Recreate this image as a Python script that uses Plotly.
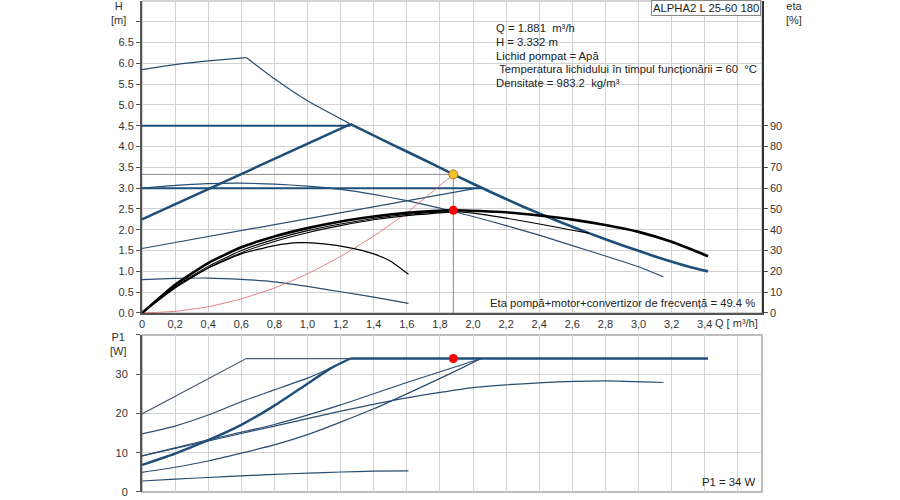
import plotly.graph_objects as go

# --- H(Q) curves, top panel ---
Q_MAX = [0, 0.2, 0.4, 0.63, 0.8, 1.0, 1.26, 1.5, 1.7, 1.881, 2.1, 2.3, 2.5, 2.7, 2.9, 3.1, 3.3, 3.42]
H_MAX = [5.85, 5.97, 6.06, 6.14, 5.63, 5.1, 4.54, 4.07, 3.69, 3.332, 2.92, 2.56, 2.23, 1.92, 1.63, 1.36, 1.12, 1.0]
MAX_KNEE = 3      # index of the knee at Q = 0.63
MAX_SEL = 6       # thick part starts at Q = 1.26

Q_SPD_HI = [0, 0.2, 0.4, 0.6, 0.8, 1.0, 1.2, 1.4, 1.6, 1.8, 2.0, 2.2, 2.4, 2.6, 2.8, 3.0, 3.15]
H_SPD_HI = [3.0, 3.07, 3.11, 3.12, 3.1, 3.05, 2.97, 2.85, 2.7, 2.52, 2.32, 2.1, 1.87, 1.62, 1.37, 1.11, 0.87]
Q_SPD_LO = [0, 0.2, 0.4, 0.6, 0.8, 1.0, 1.2, 1.4, 1.61]
H_SPD_LO = [0.8, 0.83, 0.84, 0.81, 0.75, 0.64, 0.51, 0.38, 0.23]

Q_PP3 = [0, 1.26]
H_PP3 = [2.25, 4.54]
Q_CP3 = [0, 1.26]
H_CP3 = [4.5, 4.5]
Q_PP2 = [0, 2.05]
H_PP2 = [1.55, 3.02]
Q_CP2 = [0, 2.05]
H_CP2 = [3.0, 3.0]

Q_SYS = [0, 0.2, 0.4, 0.6, 0.8, 1.0, 1.2, 1.4, 1.6, 1.881]
H_SYS = [0, 0.04, 0.15, 0.34, 0.6, 0.94, 1.36, 1.85, 2.41, 3.332]

# --- efficiency curves [%] ---
Q_ETA_SEL = [0, 0.2, 0.4, 0.6, 0.8, 1.0, 1.2, 1.4, 1.6, 1.881, 2.2, 2.4, 2.6, 2.8, 3.0, 3.2, 3.42]
ETA_SEL = [0, 13.6, 24, 31.6, 36.8, 40.8, 44, 46.4, 48.2, 49.4, 48.4, 46.9, 44.9, 42.3, 39.0, 34.2, 27.3]
Q_ETA_2 = [0, 0.2, 0.4, 0.6, 0.8, 1.0, 1.2, 1.4, 1.6, 1.88, 2.0, 2.2, 2.4, 2.6, 2.7]
ETA_2 = [0, 12.6, 22.4, 30, 35.4, 39.6, 42.8, 45.4, 47.4, 48.8, 48.0, 45.6, 42.8, 39.8, 38.4]
Q_ETA_3 = [0, 0.2, 0.4, 0.6, 0.8, 1.0, 1.2, 1.4, 1.6, 1.88]
ETA_3 = [0, 12, 21.6, 29, 34.4, 38.6, 42, 44.8, 46.8, 48.6]
Q_ETA_LO = [0, 0.2, 0.4, 0.6, 0.8, 0.95, 1.1, 1.25, 1.4, 1.5, 1.61]
ETA_LO = [0, 12.4, 21.6, 28.4, 32.4, 33.8, 33.2, 31.4, 28.4, 25, 18.6]

# --- P1(Q) curves, bottom panel ---
Q_P_A = [0, 0.63, 1.26]
P_A = [19.9, 34, 34]
Q_P_SEL = [0, 0.2, 0.4, 0.6, 0.8, 1.0, 1.14, 1.26]
P_SEL = [6.9, 9.8, 13.2, 17.1, 22.0, 27.6, 31.5, 34]
Q_P_MAX = [1.26, 3.42]
P_MAX = [34, 34]
Q_P_B = [0, 0.2, 0.4, 0.6, 0.8, 1.0, 1.14, 1.26]
P_B = [14.8, 16.8, 19.6, 23.0, 26.0, 29.0, 31.6, 34]
Q_P_D = [0, 0.4, 0.8, 1.2, 1.6, 2.05]
P_D = [9.2, 13.3, 17.2, 22.2, 27.9, 34]
Q_P_E = [0, 0.4, 0.8, 1.2, 1.6, 2.0, 2.4, 2.8, 3.15]
P_E = [9.2, 13.0, 16.8, 20.6, 24.0, 26.6, 27.8, 28.3, 27.9]
Q_P_F = [0, 0.2, 0.4, 0.6, 0.8, 1.0, 1.2, 1.4, 1.6, 1.84, 2.05]
P_F = [5.0, 6.3, 7.9, 9.9, 12.0, 14.6, 17.8, 21.2, 25.0, 29.7, 34]
Q_P_G = [0, 0.2, 0.4, 0.6, 0.8, 1.0, 1.2, 1.4, 1.61]
P_G = [2.8, 3.3, 3.7, 4.1, 4.5, 4.8, 5.1, 5.3, 5.4]

# duty point
Q_DUTY = 1.881
H_DUTY = 3.332
ETA_DUTY = 49.4
P1_DUTY = 34

X_TICKS = [0, 0.2, 0.4, 0.6, 0.8, 1.0, 1.2, 1.4, 1.6, 1.8, 2.0, 2.2, 2.4, 2.6, 2.8, 3.0, 3.2, 3.4, 3.6]
X_TEXT = ['0', '0,2', '0,4', '0,6', '0,8', '1,0', '1,2', '1,4', '1,6', '1,8',
          '2,0', '2,2', '2,4', '2,6', '2,8', '3,0', '3,2', '3,4', '']
H_TICKS = [0, 0.5, 1.0, 1.5, 2.0, 2.5, 3.0, 3.5, 4.0, 4.5, 5.0, 5.5, 6.0, 6.5, 7.0]
H_TEXT = ['0.0', '0.5', '1.0', '1.5', '2.0', '2.5', '3.0', '3.5', '4.0', '4.5',
          '5.0', '5.5', '6.0', '6.5', '']
ETA_TICKS = [0, 10, 20, 30, 40, 50, 60, 70, 80, 90]
P_TICKS = [0, 10, 20, 30, 40]
P_TEXT = ['0', '10', '20', '30', '']

INFO_LINES = [
    'Q = 1.881\u00a0 m³/h',
    'H = 3.332 m',
    'Lichid pompat = Apă',
    '\u00a0Temperatura lichidului în timpul funcționării = 60\u00a0 °C',
    'Densitate = 983.2\u00a0 kg/m³',
]

BLUE = '#1f4e79'
BLUE_T = '#2a4d72'
BLACK = '#000000'
GRID = '#d2d2d2'
FONT = 'Liberation Sans, Arial, sans-serif'
TXT = dict(family=FONT, size=11.3, color='#222222')

fig = go.Figure()


def line(x, y, color, width, xa='x', ya='y', smooth=True):
    shape = dict(shape='spline', smoothing=0.5) if smooth else dict(shape='linear')
    fig.add_trace(go.Scatter(x=x, y=y, mode='lines', xaxis=xa, yaxis=ya,
                             line=dict(color=color, width=width, **shape),
                             hoverinfo='skip', showlegend=False))


# top panel
line([0, Q_DUTY], [H_DUTY, H_DUTY], '#8c8c8c', 1, smooth=False)
line([Q_DUTY, Q_DUTY], [0, H_DUTY], '#8c8c8c', 1, smooth=False)
line(Q_SPD_LO, H_SPD_LO, BLUE_T, 1.2)
line(Q_SPD_HI, H_SPD_HI, BLUE_T, 1.2)
line(Q_PP2, H_PP2, BLUE_T, 1.2, smooth=False)
line(Q_CP2, H_CP2, BLUE, 2, smooth=False)
line(Q_CP3, H_CP3, BLUE, 2, smooth=False)
line(Q_PP3, H_PP3, BLUE, 2.5, smooth=False)
line(Q_MAX[:MAX_KNEE + 1], H_MAX[:MAX_KNEE + 1], BLUE_T, 1.2)
line(Q_MAX[MAX_KNEE:MAX_SEL + 1], H_MAX[MAX_KNEE:MAX_SEL + 1], BLUE_T, 1.2)
line(Q_MAX[MAX_SEL:], H_MAX[MAX_SEL:], BLUE, 2.6)
line(Q_SYS, H_SYS, '#e06060', 0.8)
line(Q_ETA_LO, ETA_LO, BLACK, 1.2, ya='y2')
line(Q_ETA_3, ETA_3, BLACK, 1.1, ya='y2')
line(Q_ETA_2, ETA_2, BLACK, 1.1, ya='y2')
line(Q_ETA_SEL, ETA_SEL, BLACK, 2.6, ya='y2')

fig.add_trace(go.Scatter(x=[Q_DUTY], y=[ETA_DUTY], yaxis='y2', mode='markers',
                         marker=dict(color='#ff0000', size=9), hoverinfo='skip', showlegend=False))
fig.add_trace(go.Scatter(x=[Q_DUTY], y=[H_DUTY], mode='markers',
                         marker=dict(color='#f2c32a', size=9, line=dict(color='#b07a10', width=1)),
                         hoverinfo='skip', showlegend=False))

# bottom panel
for qx, py, w, c, sm in [(Q_P_G, P_G, 1.2, BLUE_T, True), (Q_P_F, P_F, 1.2, BLUE_T, True),
                         (Q_P_E, P_E, 1.2, BLUE_T, True), (Q_P_D, P_D, 1.2, BLUE_T, True),
                         (Q_P_B, P_B, 1.2, BLUE_T, True), (Q_P_A, P_A, 1.2, '#4a5d73', False),
                         (Q_P_SEL, P_SEL, 2.4, BLUE, True), (Q_P_MAX, P_MAX, 2.4, BLUE, False)]:
    line(qx, py, c, w, xa='x2', ya='y3', smooth=sm)
fig.add_trace(go.Scatter(x=[Q_DUTY], y=[P1_DUTY], xaxis='x2', yaxis='y3', mode='markers',
                         marker=dict(color='#ff0000', size=9), hoverinfo='skip', showlegend=False))

top_dom = [0.3646, 1.0]
bot_dom = [0.0, 0.3198]
axis_font = dict(family=FONT, size=11, color='#333333')

fig.update_layout(
    width=900, height=500,
    margin=dict(l=142, r=138, t=1, b=8),
    paper_bgcolor='white', plot_bgcolor='white',
    font=dict(family=FONT, size=11, color='#222222'),
    xaxis=dict(domain=[0, 1], range=[0, 3.746], anchor='y', tickvals=X_TICKS, ticktext=X_TEXT,
               showgrid=True, gridcolor=GRID, gridwidth=1, zeroline=False,
               showline=True, linecolor='#555555', linewidth=2, tickfont=axis_font, ticks=''),
    yaxis=dict(domain=top_dom, range=[0, 7.5], anchor='x', tickvals=H_TICKS, ticktext=H_TEXT,
               showgrid=True, gridcolor=GRID, gridwidth=1, zeroline=False,
               showline=True, linecolor='#555555', linewidth=2, ticks='outside', ticklen=4,
               tickcolor='#555555', tickfont=axis_font),
    yaxis2=dict(overlaying='y', side='right', anchor='x', range=[0, 150], tickvals=ETA_TICKS,
                showgrid=False, zeroline=False, showline=True, linecolor='#333333', linewidth=1.5,
                ticks='outside', ticklen=4, tickcolor='#555555', tickfont=axis_font),
    xaxis2=dict(domain=[0, 1], range=[0, 3.746], anchor='y3', tickvals=X_TICKS, showticklabels=False,
                showgrid=True, gridcolor=GRID, gridwidth=1, zeroline=False, ticks=''),
    yaxis3=dict(domain=bot_dom, range=[0, 40], anchor='x2', tickvals=P_TICKS, ticktext=P_TEXT,
                showgrid=True, gridcolor=GRID, gridwidth=1, zeroline=False,
                showline=True, linecolor='#555555', linewidth=2, ticks='outside', ticklen=4,
                tickcolor='#555555', tickfont=axis_font, ticklabelstandoff=6),
    shapes=[
        dict(type='rect', xref='x domain', yref='y domain', x0=0, x1=1, y0=0, y1=1,
             line=dict(color='#a8a8a8', width=1), layer='below'),
        dict(type='rect', xref='x2 domain', yref='y3 domain', x0=0, x1=1, y0=0, y1=1,
             line=dict(color='#a8a8a8', width=1.5), layer='below'),
    ],
)


def px_y(y):
    return (492 - y) / 491


def px_x(x):
    return (x - 142) / 620


ann = [
    dict(text='H<br>[m]', x=px_x(118), y=px_y(13)),
    dict(text='eta<br>[%]', x=px_x(794), y=px_y(13)),
    dict(text='P1<br>[W]', x=px_x(118), y=px_y(344)),
]
for a in ann:
    fig.add_annotation(xref='paper', yref='paper', showarrow=False, xanchor='center', yanchor='middle',
                       font=dict(family=FONT, size=11, color='#333333'), **a)

for i, t in enumerate(INFO_LINES):
    fig.add_annotation(text=t, xref='paper', yref='paper', x=px_x(494), y=px_y(28 + i * 13.8),
                       xanchor='left', yanchor='middle', showarrow=False, font=TXT)

fig.add_annotation(text='ALPHA2 L 25-60 180', xref='paper', yref='paper', x=px_x(761), y=px_y(0),
                   xanchor='right', yanchor='top', showarrow=False, bgcolor='white',
                   bordercolor='#888888', borderwidth=1, borderpad=1, font=TXT)
fig.add_annotation(text='Q [ m³/h]', xref='paper', yref='paper', x=px_x(713), y=px_y(323),
                   xanchor='left', yanchor='middle', showarrow=False, font=axis_font)
fig.add_annotation(text='Eta pompă+motor+convertizor de frecvență = 49.4 %', xref='paper', yref='paper',
                   x=px_x(757), y=px_y(303), xanchor='right', yanchor='middle', showarrow=False, font=TXT)
fig.add_annotation(text='P1 = 34 W', xref='paper', yref='paper', x=px_x(757), y=px_y(482),
                   xanchor='right', yanchor='middle', showarrow=False, font=TXT)

fig.write_html('out.html', config={'displayModeBar': False},
               post_script="document.body.style.margin='0px';")
